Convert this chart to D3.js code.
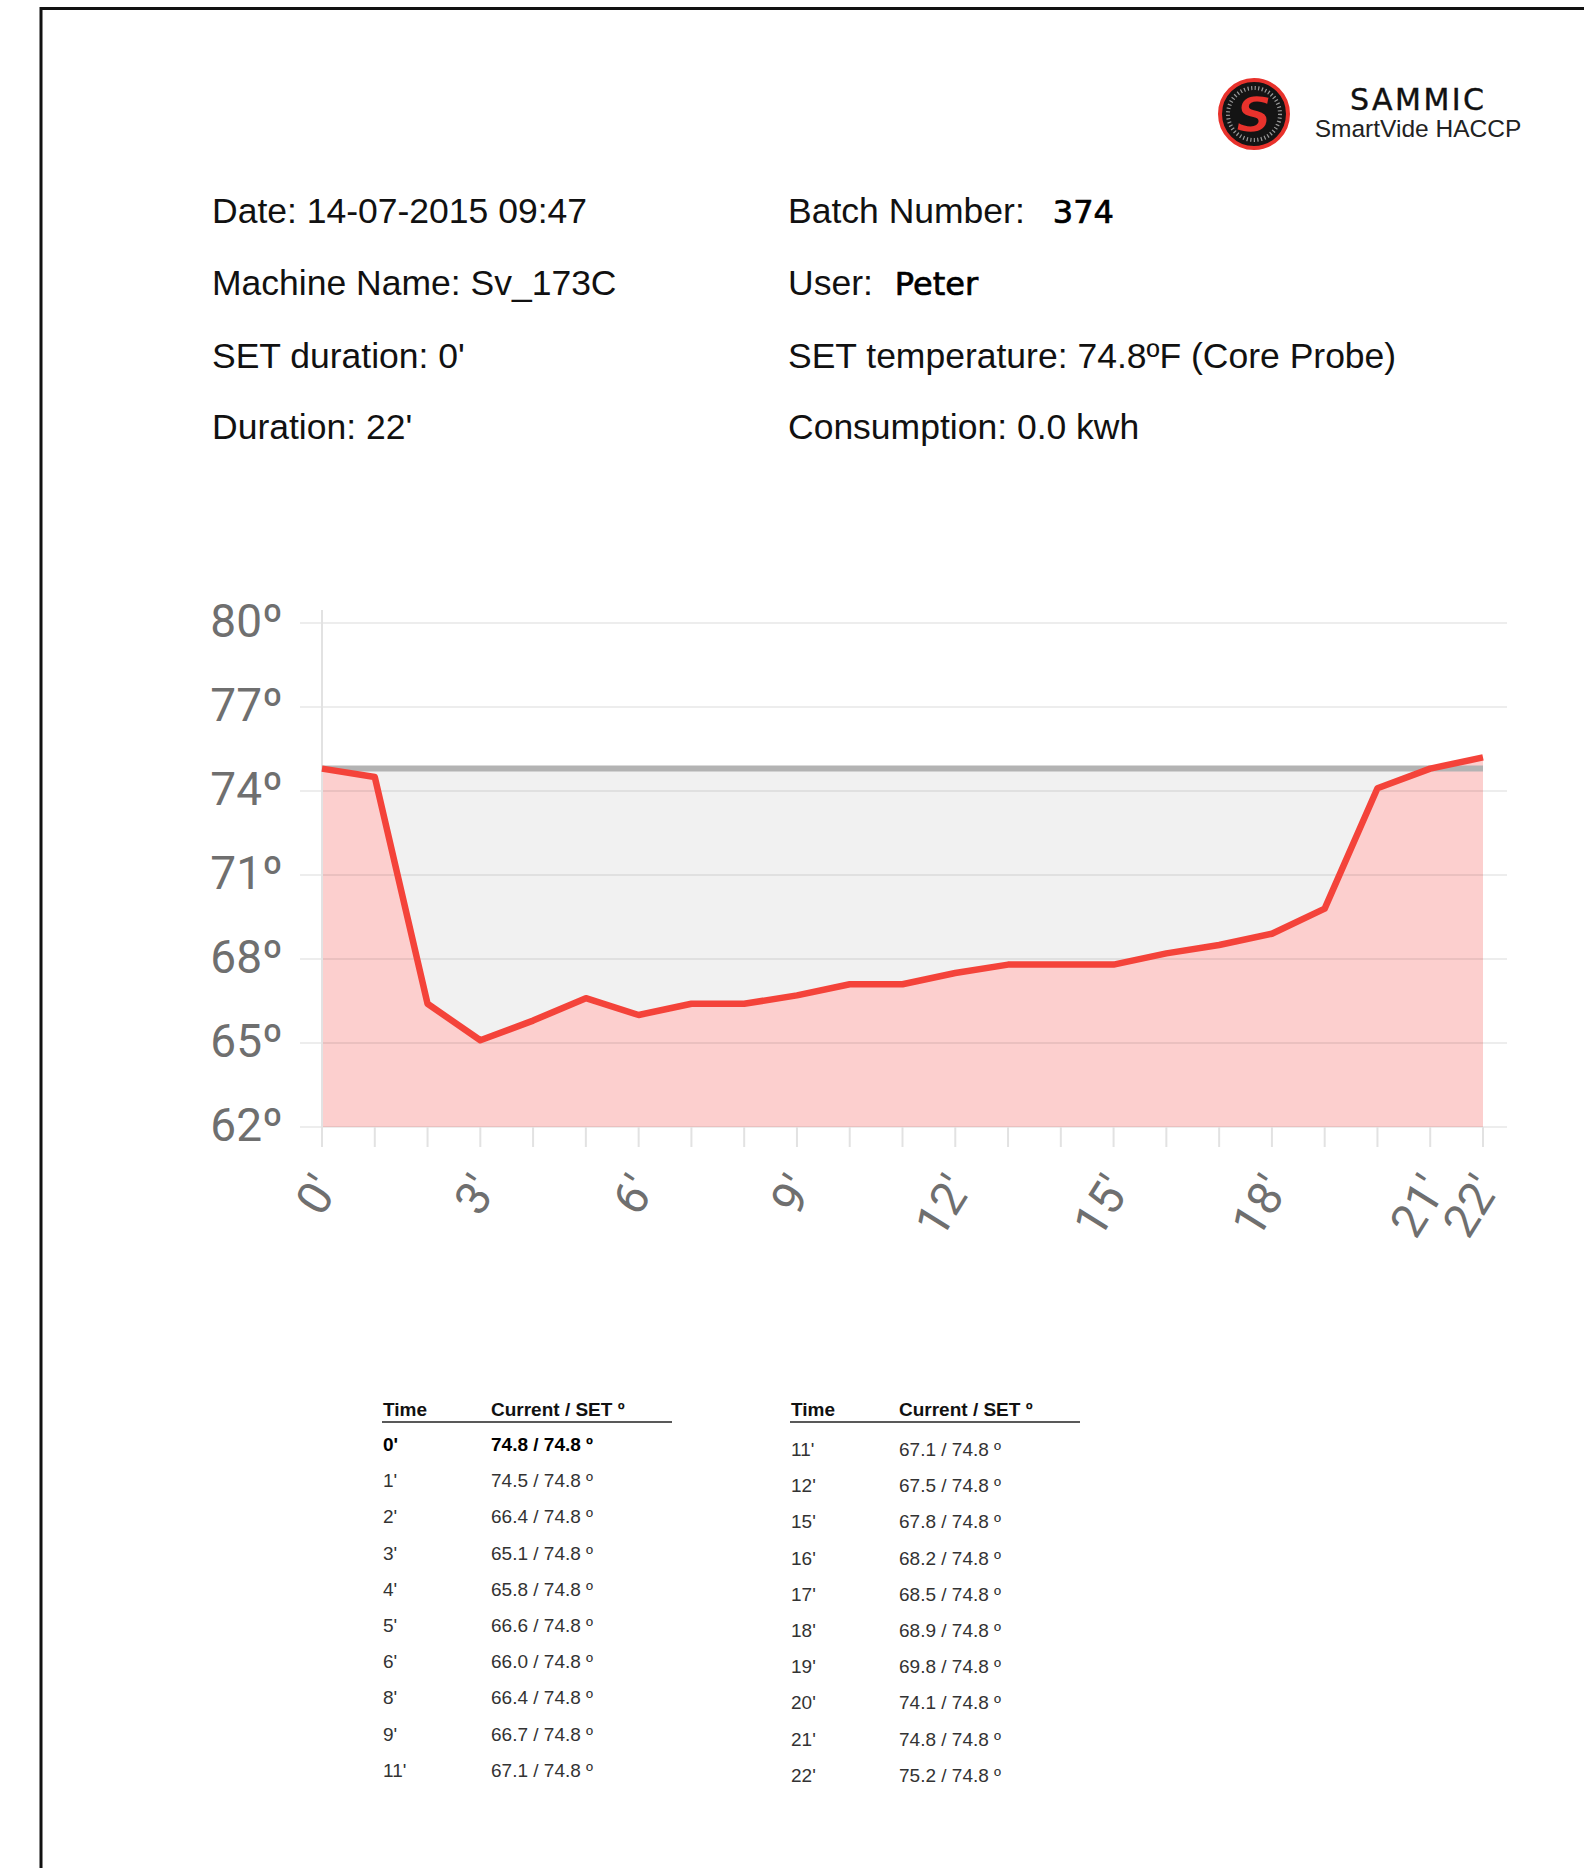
<!DOCTYPE html>
<html>
<head>
<meta charset="utf-8">
<script src="https://cdn.jsdelivr.net/npm/d3@7"></script>
<style>
  body { margin: 0; background: #fff; }
  svg { display: block; }
</style>
</head>
<body>
<svg width="1584" height="1868"></svg>
<script>
// report values
const infoLeft = ["Date: 14-07-2015 09:47", "Machine Name: Sv_173C", "SET duration: 0'", "Duration: 22'"];
const infoRightLabels = ["Batch Number:", "User:", "SET temperature: 74.8ºF (Core Probe)", "Consumption: 0.0 kwh"];
const infoRightValues = ["374", "Peter", "", ""];

// chart series, one point per minute
const minutes = [0, 1, 2, 3, 4, 5, 6, 7, 8, 9, 10, 11, 12, 13, 14, 15, 16, 17, 18, 19, 20, 21, 22];
const temps = [74.8, 74.5, 66.4, 65.1, 65.8, 66.6, 66.0, 66.4, 66.4, 66.7, 67.1, 67.1, 67.5, 67.8, 67.8, 67.8, 68.2, 68.5, 68.9, 69.8, 74.1, 74.8, 75.2];
const setTemp = 74.8;
const yTicks = [62, 65, 68, 71, 74, 77, 80];
const xTickLabels = [0, 3, 6, 9, 12, 15, 18, 21, 22];

// tables under the chart
const leftTimes = ["0'", "1'", "2'", "3'", "4'", "5'", "6'", "8'", "9'", "11'"];
const leftValues = [74.8, 74.5, 66.4, 65.1, 65.8, 66.6, 66.0, 66.4, 66.7, 67.1];
const rightTimes = ["11'", "12'", "15'", "16'", "17'", "18'", "19'", "20'", "21'", "22'"];
const rightValues = [67.1, 67.5, 67.8, 68.2, 68.5, 68.9, 69.8, 74.1, 74.8, 75.2];

const svg = d3.select("svg");

// page frame (left + top edge only)
svg.append("path")
    .attr("d", "M41,1868 V8.5 H1584")
    .attr("fill", "none")
    .attr("stroke", "#111")
    .attr("stroke-width", 3);

// logo
const logo = svg.append("g").attr("transform", "translate(1254,114)");
logo.append("circle").attr("r", 34).attr("fill", "#141414").attr("stroke", "#e8322c").attr("stroke-width", 4);
logo.append("circle").attr("r", 26).attr("fill", "none").attr("stroke", "#9a9a9a")
    .attr("stroke-width", 4).attr("stroke-dasharray", "1.2 2.4");
logo.append("text")
    .attr("text-anchor", "middle").attr("dy", "0.36em")
    .style("font", "italic bold 50px 'DejaVu Sans'")
    .attr("fill", "#e8322c").attr("stroke", "#141414").attr("stroke-width", 1.5)
    .text("S");
svg.append("text").attr("x", 1417).attr("y", 110).attr("text-anchor", "middle")
    .attr("textLength", 134).style("font", "30px 'DejaVu Sans'").attr("fill", "#111")
    .attr("stroke", "#111").attr("stroke-width", 0.4)
    .text("SAMMIC");
svg.append("text").attr("x", 1418).attr("y", 137).attr("text-anchor", "middle")
    .style("font", "24.5px 'Liberation Sans'").attr("fill", "#222")
    .text("SmartVide HACCP");

// header info
const rowY = [223, 295, 368, 439];
const valueGap = [28, 22, 0, 0];
svg.append("g").selectAll("text").data(infoLeft).enter().append("text")
    .attr("x", 212).attr("y", (d, i) => rowY[i])
    .style("font", "35.5px 'Liberation Sans'").attr("fill", "#111")
    .text(d => d);
const right = svg.append("g").selectAll("text").data(infoRightLabels).enter().append("text")
    .attr("x", 788).attr("y", (d, i) => rowY[i])
    .style("font", "35.5px 'Liberation Sans'").attr("fill", "#111");
right.append("tspan").text(d => d);
right.append("tspan")
    .style("font", "32px 'DejaVu Sans'").attr("fill", "#000")
    .attr("stroke", "#000").attr("stroke-width", 0.7)
    .attr("dx", (d, i) => valueGap[i])
    .text((d, i) => infoRightValues[i]);

// chart
const x = d3.scaleLinear().domain([0, 22]).range([322, 1483]);
const y = d3.scaleLinear().domain([62, 80]).range([1127, 623]);
const data = minutes.map((m, i) => ({ m: m, t: temps[i] }));

// grey set band
svg.append("rect")
    .attr("x", x(0)).attr("y", y(setTemp))
    .attr("width", x(22) - x(0)).attr("height", y(62) - y(setTemp))
    .attr("fill", "#f1f1f1");

// red area
const area = d3.area().x(d => x(d.m)).y0(y(62)).y1(d => y(d.t));
svg.append("path").datum(data).attr("d", area).attr("fill", "#fccfce");

// gridlines
svg.append("g").selectAll("line").data(yTicks).enter().append("line")
    .attr("x1", 300).attr("x2", 1507)
    .attr("y1", d => y(d)).attr("y2", d => y(d))
    .attr("stroke", "rgba(0,0,0,0.07)").attr("stroke-width", 2);

// y axis line and x ticks
svg.append("line").attr("x1", x(0)).attr("x2", x(0)).attr("y1", 610).attr("y2", 1147)
    .attr("stroke", "#e2e2e2").attr("stroke-width", 2);
svg.append("g").selectAll("line").data(minutes).enter().append("line")
    .attr("x1", d => x(d)).attr("x2", d => x(d))
    .attr("y1", y(62)).attr("y2", y(62) + 20)
    .attr("stroke", "#e2e2e2").attr("stroke-width", 2);

// set line
svg.append("line")
    .attr("x1", x(0)).attr("x2", x(22))
    .attr("y1", y(setTemp)).attr("y2", y(setTemp))
    .attr("stroke", "#b3b3b3").attr("stroke-width", 6);

// temperature line
const line = d3.line().x(d => x(d.m)).y(d => y(d.t));
svg.append("path").datum(data).attr("d", line)
    .attr("fill", "none").attr("stroke", "#f4433a").attr("stroke-width", 6.5)
    .attr("stroke-linejoin", "round");

// y labels
svg.append("g").selectAll("text").data(yTicks).enter().append("text")
    .attr("x", 283).attr("y", d => y(d)).attr("dy", "0.3em")
    .attr("text-anchor", "end")
    .style("font", "46px Roboto").attr("fill", "#6f6f6f")
    .text(d => d + "º");

// x labels, rotated
svg.append("g").selectAll("text").data(xTickLabels).enter().append("text")
    .attr("transform", d => `translate(${x(d) + 4},1180) rotate(-58)`)
    .attr("text-anchor", "end").attr("dy", "0.35em")
    .style("font", "47px Roboto").attr("fill", "#6f6f6f")
    .text(d => d + "'");

// tables
function table(x0, times, values, firstY, boldFirst) {
    const g = svg.append("g");
    g.append("text").attr("x", x0).attr("y", 1416)
        .style("font", "bold 19px 'Liberation Sans'").attr("fill", "#111").text("Time");
    g.append("text").attr("x", x0 + 108).attr("y", 1416)
        .style("font", "bold 19px 'Liberation Sans'").attr("fill", "#111").text("Current / SET º");
    g.append("line").attr("x1", x0 - 1).attr("x2", x0 + 289).attr("y1", 1422).attr("y2", 1422)
        .attr("stroke", "#222").attr("stroke-width", 1.5);
    const rows = g.selectAll("g.row").data(times).enter().append("g")
        .attr("transform", (d, i) => `translate(0,${firstY + i * 36.2})`);
    rows.append("text").attr("x", x0)
        .style("font", (d, i) => (boldFirst && i === 0 ? "bold " : "") + "19px 'Liberation Sans'")
        .attr("fill", (d, i) => boldFirst && i === 0 ? "#000" : "#333")
        .text(d => d);
    rows.append("text").attr("x", x0 + 108)
        .style("font", (d, i) => (boldFirst && i === 0 ? "bold " : "") + "19px 'Liberation Sans'")
        .attr("fill", (d, i) => boldFirst && i === 0 ? "#000" : "#333")
        .text((d, i) => values[i].toFixed(1) + " / " + setTemp.toFixed(1) + " º");
}
table(383, leftTimes, leftValues, 1451, true);
table(791, rightTimes, rightValues, 1456, false);
</script>
</body>
</html>
